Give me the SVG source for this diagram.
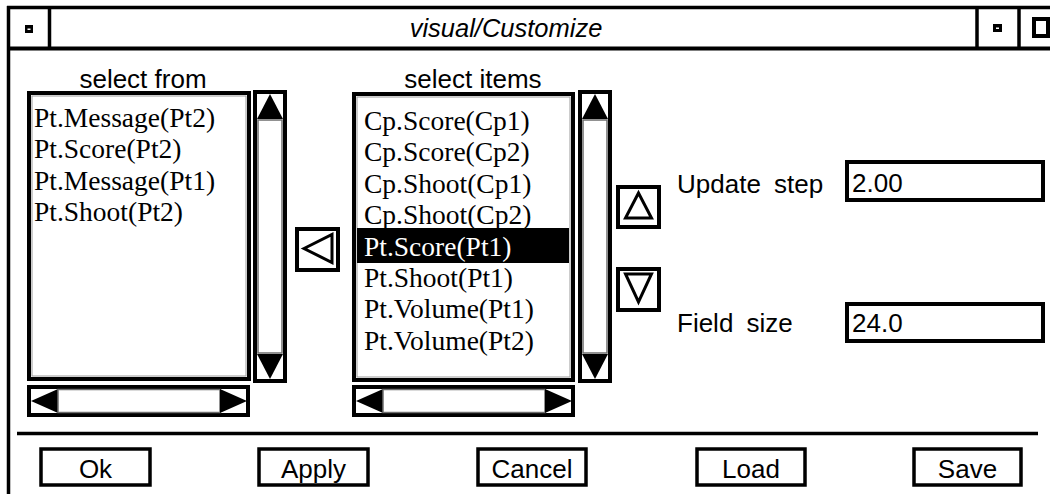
<svg xmlns="http://www.w3.org/2000/svg" xmlns:xlink="http://www.w3.org/1999/xlink" width="1050" height="494" viewBox="0 0 1050 494">
  <style>
    .frame { fill: none; stroke: #000; stroke-width: 3.5; }
    .box { fill: #fff; stroke: #000; stroke-width: 4; }
    .btn { fill: #fff; stroke: #000; stroke-width: 3.5; }
    .track { fill: #fff; stroke: #6e6e6e; stroke-width: 1.5; }
    .inner { fill: none; stroke: #9a9a9a; stroke-width: 1; }
    .arrow { fill: #000; }
    .hollow { fill: none; stroke: #000; stroke-width: 3; stroke-linejoin: miter; }
    .sans { font-family: "Liberation Sans", Arial, sans-serif; font-size: 26px; fill: #000; }
    .serif { font-family: "Liberation Serif", "Times New Roman", serif; font-size: 27.5px; fill: #000; }
    .sel { fill: #fff; }
  </style>
  <defs>
    <!-- vertical scrollbar, 34 x 293 -->
    <g id="vscroll">
      <rect class="box" x="2" y="2" width="30" height="289"/>
      <polygon class="arrow" points="17,4 4,29 30,29"/>
      <rect class="track" x="5" y="30" width="24" height="233"/>
      <polygon class="arrow" points="4,264 30,264 17,289"/>
    </g>
    <!-- horizontal scrollbar, 223 x 32 -->
    <g id="hscroll">
      <rect class="box" x="2" y="2" width="219" height="28"/>
      <polygon class="arrow" points="4,16 31,4 31,28"/>
      <rect class="track" x="31" y="4.5" width="162" height="23"/>
      <polygon class="arrow" points="193,4 193,28 220,16"/>
    </g>
  </defs>

  <rect x="0" y="0" width="1050" height="494" fill="#fff"/>

  <!-- window frame and title bar -->
  <g id="titlebar">
    <line class="frame" x1="7" y1="7.5" x2="1050" y2="7.5"/>
    <line class="frame" x1="8.5" y1="6" x2="8.5" y2="494"/>
    <line class="frame" x1="7" y1="48.5" x2="1050" y2="48.5" style="stroke-width:4"/>
    <line class="frame" x1="49.5" y1="7" x2="49.5" y2="48"/>
    <line class="frame" x1="977" y1="7" x2="977" y2="48"/>
    <line class="frame" x1="1019" y1="7" x2="1019" y2="48"/>
    <rect x="25" y="25" width="8" height="8" fill="#000"/>
    <rect x="27.5" y="28.5" width="3" height="1.5" fill="#fff"/>
    <rect x="993" y="24" width="9" height="8" fill="#000"/>
    <rect x="996" y="27.5" width="3" height="1.5" fill="#fff"/>
    <rect x="1034" y="19" width="14" height="17" fill="#fff" stroke="#000" stroke-width="4"/>
    <text class="sans" x="506" y="37" text-anchor="middle" font-style="italic" style="font-size:25.5px">visual/Customize</text>
  </g>

  <!-- source list -->
  <g id="select-from">
    <text class="sans" x="143" y="88" text-anchor="middle">select from</text>
    <rect class="box" x="29" y="93" width="220" height="286"/>
    <rect class="inner" x="32" y="96" width="214" height="280"/>
    <text class="serif" x="34" y="126.5">Pt.Message(Pt2)</text>
    <text class="serif" x="34" y="158">Pt.Score(Pt2)</text>
    <text class="serif" x="34" y="189.5">Pt.Message(Pt1)</text>
    <text class="serif" x="34" y="221">Pt.Shoot(Pt2)</text>
    <use xlink:href="#vscroll" x="253" y="90"/>
    <use xlink:href="#hscroll" x="27" y="385"/>
  </g>

  <!-- move-left button -->
  <g id="move-left">
    <rect class="btn" x="297" y="229" width="41" height="41" style="stroke-width:4"/>
    <polygon class="hollow" points="304,248.5 332,234.5 332,262.5"/>
  </g>

  <!-- selected list -->
  <g id="select-items">
    <text class="sans" x="473" y="88" text-anchor="middle">select items</text>
    <rect class="box" x="354" y="94" width="219" height="286"/>
    <rect class="inner" x="357" y="97" width="213" height="280"/>
    <rect x="357" y="228" width="212" height="35" fill="#000"/>
    <text class="serif" x="364" y="130">Cp.Score(Cp1)</text>
    <text class="serif" x="364" y="161.4">Cp.Score(Cp2)</text>
    <text class="serif" x="364" y="192.8">Cp.Shoot(Cp1)</text>
    <text class="serif" x="364" y="224.2">Cp.Shoot(Cp2)</text>
    <text class="serif sel" x="364" y="255.6">Pt.Score(Pt1)</text>
    <text class="serif" x="364" y="287">Pt.Shoot(Pt1)</text>
    <text class="serif" x="364" y="318.4">Pt.Volume(Pt1)</text>
    <text class="serif" x="364" y="349.8">Pt.Volume(Pt2)</text>
    <use xlink:href="#vscroll" x="578" y="90"/>
    <use xlink:href="#hscroll" x="352" y="385"/>
  </g>

  <!-- order buttons -->
  <g id="move-up">
    <rect class="btn" x="618" y="187" width="41" height="40" style="stroke-width:4"/>
    <polygon class="hollow" points="638.5,193 625.5,218 651.5,218"/>
  </g>
  <g id="move-down">
    <rect class="btn" x="618" y="269" width="41" height="41" style="stroke-width:4"/>
    <polygon class="hollow" points="625.5,274 651.5,274 638.5,302"/>
  </g>

  <!-- numeric fields -->
  <g id="update-step">
    <text class="sans" x="677" y="193" word-spacing="6">Update step</text>
    <rect class="box" x="847" y="162" width="196" height="38"/>
    <text class="sans" x="852" y="192">2.00</text>
  </g>
  <g id="field-size">
    <text class="sans" x="677" y="332" word-spacing="6">Field size</text>
    <rect class="box" x="847" y="304" width="196" height="37"/>
    <text class="sans" x="852" y="332">24.0</text>
  </g>

  <line class="frame" x1="17" y1="433.5" x2="1038" y2="433.5"/>

  <!-- action buttons -->
  <g id="btn-ok">
    <rect class="btn" x="41" y="449" width="109" height="36"/>
    <text class="sans" x="95.5" y="477.5" text-anchor="middle">Ok</text>
  </g>
  <g id="btn-apply">
    <rect class="btn" x="259" y="449" width="109" height="36"/>
    <text class="sans" x="313.5" y="477.5" text-anchor="middle">Apply</text>
  </g>
  <g id="btn-cancel">
    <rect class="btn" x="478" y="449" width="108" height="36"/>
    <text class="sans" x="532" y="477.5" text-anchor="middle">Cancel</text>
  </g>
  <g id="btn-load">
    <rect class="btn" x="697" y="449" width="108" height="36"/>
    <text class="sans" x="751" y="477.5" text-anchor="middle">Load</text>
  </g>
  <g id="btn-save">
    <rect class="btn" x="914" y="449" width="107" height="36"/>
    <text class="sans" x="967.5" y="477.5" text-anchor="middle">Save</text>
  </g>

  <g id="connectors"/>
</svg>
